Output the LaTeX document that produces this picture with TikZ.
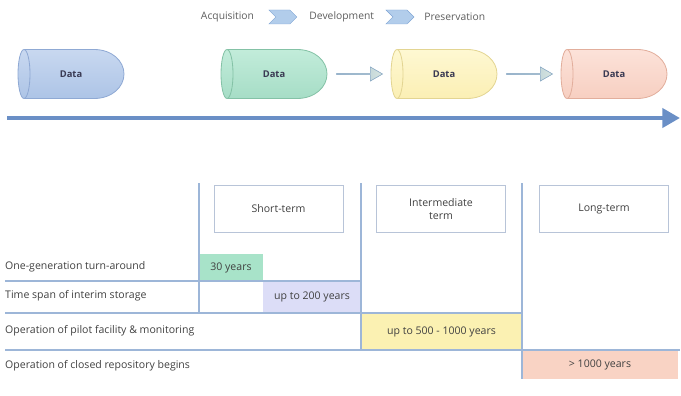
\documentclass[tikz,border=0pt]{standalone}
\usepackage{fontspec}
\setmainfont{Open Sans}
\usetikzlibrary{arrows.meta,positioning,calc,shapes.arrows,shapes.symbols}

\definecolor{txt}{HTML}{404040}
\definecolor{gridline}{HTML}{9DB6D8}
\definecolor{boxline}{HTML}{B8C4D8}
\definecolor{axis}{HTML}{6A8FC6}
\definecolor{bluetop}{HTML}{C8D8F0}
\definecolor{bluebot}{HTML}{ADC4E6}
\definecolor{blueline}{HTML}{8FA9D4}
\definecolor{greentop}{HTML}{C2ECDA}
\definecolor{greenbot}{HTML}{A6DDC6}
\definecolor{greenline}{HTML}{84C2A6}
\definecolor{yellowtop}{HTML}{FEF8D2}
\definecolor{yellowbot}{HTML}{FBEFB4}
\definecolor{yellowline}{HTML}{E3D592}
\definecolor{pinktop}{HTML}{FCE2D9}
\definecolor{pinkbot}{HTML}{F7CFC1}
\definecolor{pinkline}{HTML}{E2AE9C}
\definecolor{cellgreen}{HTML}{A8E3C9}
\definecolor{cellviolet}{HTML}{DCDDF7}
\definecolor{cellyellow}{HTML}{FBF1B2}
\definecolor{cellpink}{HTML}{F9D3C4}
\definecolor{arrowdark}{HTML}{98B5CC}
\definecolor{arrowlight}{HTML}{D8E6E0}
\definecolor{arrowline}{HTML}{86A6C2}
\definecolor{chevfill}{HTML}{B2CDEB}
\definecolor{chevline}{HTML}{7FA4D4}

\newcommand{\pill}[4]{%
  \begin{scope}[shift={(#1)}]
    \shade[top color=#2, bottom color=#3] (-47,-24.5) -- (23,-24.5) .. controls (41,-24.5) and (53,-13) .. (53,0) .. controls (53,13) and (41,24.5) .. (23,24.5) -- (-47,24.5) -- cycle;
    \draw[#4, line width=.7pt] (-47,-24.5) -- (23,-24.5) .. controls (41,-24.5) and (53,-13) .. (53,0) .. controls (53,13) and (41,24.5) .. (23,24.5) -- (-47,24.5);
    \path[draw=#4, line width=.7pt, top color=#2, bottom color=#3] (-47,0) ellipse [x radius=6, y radius=24.5];
  \end{scope}}

\begin{document}
\begin{tikzpicture}[x=0.03cm,y=-0.03cm,
    font=\fontsize{9}{10.5}\selectfont, text=txt,
    datanode/.style={minimum width=3.18cm, minimum height=1.47cm, inner sep=0, font=\fontsize{8}{9.5}\selectfont\bfseries, text=txt!90!blue},
    blockarrow/.style={single arrow, single arrow tip angle=60, single arrow head extend=0.09cm, minimum height=1.38cm, minimum width=0.42cm, inner sep=0, left color=arrowdark, right color=arrowlight, draw=arrowline, line width=.5pt},
    chev/.style={signal, signal to=east, signal from=west, minimum width=0.84cm, minimum height=0.42cm, inner sep=0, fill=chevfill, draw=chevline, line width=.4pt},
    stage/.style={inner sep=0, text=txt!85, font=\fontsize{8.8}{10}\selectfont},
    timeline/.style={axis, line width=4.2pt, -{Triangle[length=15pt,width=16pt]}},
    termbox/.style={draw=boxline, line width=.6pt, minimum width=3.87cm, minimum height=1.41cm, align=center, inner sep=0},
    cell/.style={inner sep=0, outer sep=0},
    rowlabel/.style={anchor=west, inner sep=0},
    vline/.style={gridline, line width=1.2pt},
    hline/.style={gridline, line width=1.6pt}]
    \useasboundingbox (0,0) rectangle (681,395);

    \node[stage]     (acq)     at (227.5,17)            {Acquisition};
    \node[chev]      (ch1)     [right=0.64cm of acq]    {};
    \node[stage]     (dev)     [right=0.36cm of ch1]    {Development};
    \node[chev]      (ch2)     [right=0.55cm of dev]    {};
    \node[stage]     (pres)    [right=0.3cm of ch2]     {Preservation};

    \pill{71,74}{bluetop}{bluebot}{blueline}
    \pill{274,74}{greentop}{greenbot}{greenline}
    \pill{444,74}{yellowtop}{yellowbot}{yellowline}
    \pill{614,74}{pinktop}{pinkbot}{pinkline}
    \node[datanode]  (d1)      at (71,74)               {Data};
    \node[datanode]  (d2)      at (274,74)              {Data};
    \node[datanode]  (d3)      at (444,74)              {Data};
    \node[datanode]  (d4)      at (614,74)              {Data};
    \node[blockarrow] (a23)    at ($(d2.east)!0.5!(d3.west)$) {};
    \node[blockarrow] (a34)    at ($(d3.east)!0.5!(d4.west)$) {};

    \coordinate (tstart) at (7,118);
    \coordinate (tend)   at (680,118);
    \draw[timeline] (tstart) -- (tend);

    \node[termbox]   (short)   at (278.5,208.5)         {Short-term};
    \node[termbox]   (inter)   at (441,209)             {Intermediate\\term};
    \node[termbox]   (long)    at (604,209)             {Long-term};

    \node[cell, fill=cellgreen,  minimum width=1.92cm, minimum height=0.81cm] (y30)   at (231,267.5) {30 years};
    \node[cell, fill=cellviolet, minimum width=2.94cm, minimum height=0.96cm] (y200)  at (312,297)   {up to 200 years};
    \node[cell, fill=cellyellow, minimum width=4.83cm, minimum height=1.08cm] (y1000) at (441.5,332) {up to 500 - 1000 years};
    \node[cell, fill=cellpink,   minimum width=4.68cm, minimum height=0.84cm] (ylong) at (600,365)   {> 1000 years};

    \node[rowlabel]  (gen)     at (5,267)               {One-generation turn-around};
    \node[rowlabel]  (interim) at (5,296)               {Time span of interim storage};
    \node[rowlabel]  (pilot)   at (5,331)               {Operation of pilot facility \& monitoring};
    \node[rowlabel]  (closed)  at (5,366)               {Operation of closed repository begins};

    \draw[vline] (199,183) -- (199,313);
    \draw[vline] (361,183) -- (361,350);
    \draw[vline] (522,183) -- (522,379);
    \draw[hline] (5,281) -- (361,281);
    \draw[hline] (5,313) -- (522,313);
    \draw[hline] (5,350) -- (680,350);
  \end{tikzpicture}
\end{document}
